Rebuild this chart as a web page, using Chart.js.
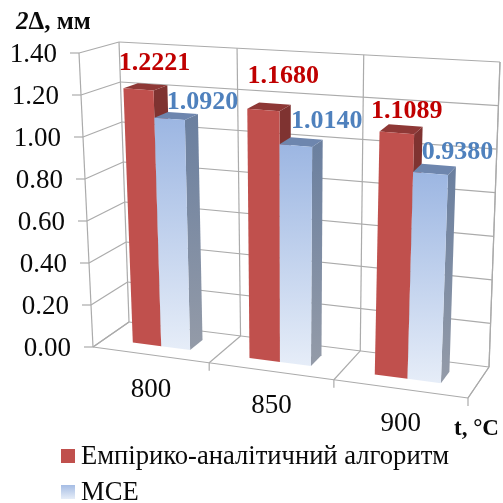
<!DOCTYPE html>
<html>
<head>
<meta charset="utf-8">
<title>2Δ</title>
<style>
  html, body { margin: 0; background: #fff; }
  canvas { display: block; }
</style>
<script src="https://cdn.jsdelivr.net/npm/chart.js@4/dist/chart.umd.js"></script>
</head>
<body>
<canvas id="chart" width="503" height="503"></canvas>
<script>
const categories = ["800", "850", "900"];
const empiricalValues = [1.2221, 1.168, 1.1089];
const mceValues = [1.092, 1.014, 0.938];
const empiricalName = "Емпірико-аналітичний алгоритм";
const mceName = "МСЕ";

const FONT = '"Liberation Serif", serif';
const GRID = "#ababab";

// corners of the 3d box on screen: f/b = front/back, l/r = left/right, 0/1 = floor/top
const box = {
  fl0: [93, 347], fr0: [468, 398], bl0: [129, 322], br0: [489, 367],
  fl1: [79, 53], fr1: [482, 81], bl1: [119, 42], br1: [500, 62]
};
const WARP = 0.898; // far side of the x axis comes out a little wider
const BAR_Z = [0.33, 0.71];

// extra shift of each value label from its bar, per dataset
const labelShift = [
  [[16, -26], [20, -34], [10, -22]],
  [[33, -17], [31, -24], [27, -21]]
];

function lerp(a, b, t) {
  return [a[0] + (b[0] - a[0]) * t, a[1] + (b[1] - a[1]) * t];
}

// u, h, z all 0..1 inside the box
function project3d(u, h, z) {
  const p = u * WARP / (1 + (WARP - 1) * u);
  const front = lerp(lerp(box.fl0, box.fr0, p), lerp(box.fl1, box.fr1, p), h);
  const back = lerp(lerp(box.bl0, box.br0, p), lerp(box.bl1, box.br1, p), h);
  return lerp(front, back, z);
}

function line(ctx, a, b) {
  ctx.beginPath();
  ctx.moveTo(a[0], a[1]);
  ctx.lineTo(b[0], b[1]);
  ctx.stroke();
}

function poly(ctx, pts, fill) {
  ctx.beginPath();
  pts.forEach((pt, i) => i ? ctx.lineTo(pt[0], pt[1]) : ctx.moveTo(pt[0], pt[1]));
  ctx.closePath();
  ctx.fillStyle = fill;
  ctx.fill();
}

function fade(ctx, top, bottom, c1, c2) {
  const g = ctx.createLinearGradient(0, top, 0, bottom);
  g.addColorStop(0, c1);
  g.addColorStop(1, c2);
  return g;
}

function text(ctx, str, x, y, font, color, align) {
  ctx.font = font;
  ctx.fillStyle = color;
  ctx.textAlign = align || "center";
  ctx.textBaseline = "middle";
  ctx.fillText(str, x, y);
}

const scene3d = {
  id: "scene3d",
  beforeDatasetsDraw(chart) {
    const ctx = chart.ctx;
    const area = chart.chartArea;
    const xScale = chart.scales.x;
    const yScale = chart.scales.y;
    const toU = (px) => (px - area.left) / area.width;
    const toH = (py) => (area.bottom - py) / area.height;
    const n = categories.length;

    ctx.save();
    ctx.strokeStyle = GRID;
    ctx.lineWidth = 1.2;

    // value grid on the back and left walls, plus ticks
    yScale.ticks.forEach((tick, i) => {
      const h = toH(yScale.getPixelForTick(i));
      const corner = project3d(0, h, 0);
      line(ctx, corner, project3d(0, h, 1));
      line(ctx, project3d(0, h, 1), project3d(1, h, 1));
      line(ctx, corner, [corner[0] - 9, corner[1]]);
      text(ctx, tick.value.toFixed(2), corner[0] - 22, corner[1] + 2, "27px " + FONT, "#0a0a0a", "right");
    });

    line(ctx, project3d(0, 0, 0), project3d(0, 1, 0));
    line(ctx, project3d(1, 0, 1), project3d(1, 1, 1));
    line(ctx, project3d(1, 0, 0), project3d(1, 0, 1));
    line(ctx, project3d(0, 0, 0), project3d(1, 0, 0));

    // category borders: floor, back wall, tick under the front edge
    for (let i = 0; i <= n; i++) {
      const u = i / n;
      const f = project3d(u, 0, 0);
      const b = project3d(u, 0, 1);
      line(ctx, f, b);
      line(ctx, b, project3d(u, 1, 1));
      if (i > 0) line(ctx, f, [f[0], f[1] + 8]);
    }

    // red goes first so the blue bar sits over its side face
    chart.data.datasets.forEach((ds, d) => {
      chart.getDatasetMeta(d).data.forEach((bar) => {
        const l = toU(bar.x - bar.width / 2);
        const r = toU(bar.x + bar.width / 2);
        const top = toH(bar.y);
        const z0 = BAR_Z[0];
        const z1 = BAR_Z[1];
        const a = project3d(l, top, z0);
        const b = project3d(r, top, z0);
        const c = project3d(r, 0, z0);
        const e = project3d(l, 0, z0);
        const a2 = project3d(l, top, z1);
        const b2 = project3d(r, top, z1);
        const c2 = project3d(r, 0, z1);
        poly(ctx, [b, b2, c2, c], fade(ctx, b2[1], c[1], ds.sideColor, ds.sideFade));
        poly(ctx, [a, a2, b2, b], ds.topColor);
        poly(ctx, [a, b, c, e], fade(ctx, a[1], c[1], ds.backgroundColor, ds.faceFade));
      });
    });

    // value labels
    chart.data.datasets.forEach((ds, d) => {
      chart.getDatasetMeta(d).data.forEach((bar, i) => {
        const pos = project3d(toU(bar.x), toH(bar.y), BAR_Z[0]);
        const s = labelShift[d][i];
        text(ctx, ds.data[i].toFixed(4), pos[0] + s[0], pos[1] + s[1], "bold 26px " + FONT, ds.labelColor);
      });
    });

    // category labels
    categories.forEach((c, i) => {
      const pos = project3d(toU(xScale.getPixelForTick(i)), 0, 0);
      text(ctx, c, pos[0] + 1, pos[1] + 35, "27px " + FONT, "#0a0a0a");
    });

    // axis names
    text(ctx, "2", 16, 23, "italic bold 25px " + FONT, "#0a0a0a", "left");
    const w = ctx.measureText("2").width;
    text(ctx, "Δ, мм", 16 + w, 23, "bold 25px " + FONT, "#0a0a0a", "left");
    text(ctx, "t, °C", 454, 429, "bold 23px " + FONT, "#0a0a0a", "left");

    // legend
    const legendY = [456, 492];
    chart.data.datasets.forEach((ds, d) => {
      const y = legendY[d];
      ctx.fillStyle = fade(ctx, y - 7, y + 7, ds.swatchTop, ds.swatchBottom);
      ctx.fillRect(61, y - 7, 14, 14);
      text(ctx, ds.label, 81, y + 1, "26.6px " + FONT, "#0a0a0a", "left");
    });

    ctx.restore();
    return false;
  }
};

new Chart(document.getElementById("chart"), {
  type: "bar",
  data: {
    labels: categories,
    datasets: [
      {
        label: empiricalName,
        data: empiricalValues,
        backgroundColor: "#c0504d",
        faceFade: "#c0504d",
        sideColor: "#7f3331",
        sideFade: "#7f3331",
        topColor: "#8e3836",
        labelColor: "#c00000",
        swatchTop: "#c0504d",
        swatchBottom: "#c0504d"
      },
      {
        label: mceName,
        data: mceValues,
        backgroundColor: "#9cb6e2",
        faceFade: "#e6edf8",
        sideColor: "#6a7f9f",
        sideFade: "#949ba8",
        topColor: "#6e86ae",
        labelColor: "#4f81bd",
        swatchTop: "#a5bce4",
        swatchBottom: "#e6edf8"
      }
    ]
  },
  options: {
    responsive: false,
    animation: false,
    layout: { padding: { left: 90, right: 30, top: 50, bottom: 120 } },
    plugins: { legend: { display: false }, tooltip: { enabled: false } },
    scales: {
      x: { display: false },
      y: { display: false, min: 0, max: 1.4, ticks: { stepSize: 0.2 } }
    },
    datasets: { bar: { categoryPercentage: 0.5, barPercentage: 1 } }
  },
  plugins: [scene3d]
});
</script>
</body>
</html>
